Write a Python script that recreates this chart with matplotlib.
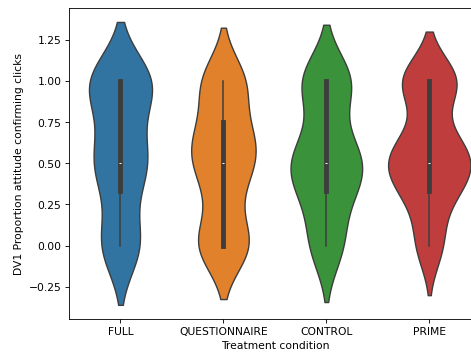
import numpy as np
import pandas as pd
import matplotlib
matplotlib.use("Agg")
import matplotlib.pyplot as plt
import seaborn as sns

# Proportion of attitude-confirming clicks, one value per participant,
# stored as (value, count) pairs for each treatment condition
conditions = ["FULL", "QUESTIONNAIRE", "CONTROL", "PRIME"]

full_values = [0, 0.25, 1/3, 0.4, 0.5, 0.6, 0.7, 0.8, 0.9, 1]
full_counts = [10, 1, 2, 1, 9, 2, 2, 2, 1, 15]

questionnaire_values = [0, 0.25, 1/3, 0.4, 0.5, 0.6, 2/3, 0.75, 0.8, 1]
questionnaire_counts = [16, 3, 3, 1, 9, 6, 4, 4, 1, 13]

control_values = [0, 0.2, 0.25, 1/3, 0.4, 0.5, 0.6, 2/3, 0.75, 1]
control_counts = [6, 1, 1, 3, 3, 7, 3, 1, 1, 10]

prime_values = [0, 0.2, 1/3, 0.4, 0.5, 0.6, 2/3, 0.75, 1]
prime_counts = [6, 2, 6, 3, 10, 6, 2, 1, 14]

groups = {
    "FULL": (full_values, full_counts),
    "QUESTIONNAIRE": (questionnaire_values, questionnaire_counts),
    "CONTROL": (control_values, control_counts),
    "PRIME": (prime_values, prime_counts),
}

rows = []
for name in conditions:
    vals, counts = groups[name]
    for v in np.repeat(vals, counts):
        rows.append({"Treatment condition": name,
                     "DV1 Proportion attitude confirming clicks": v})
df = pd.DataFrame(rows)

dpi = 77.5
fig = plt.figure(figsize=(471.2 / dpi, 354.2 / dpi), dpi=dpi)
ax = fig.add_axes([0.1465, 0.0989, 0.8737, 0.8785])

# widths scaled against the largest density of all four violins
sns.violinplot(data=df, x="Treatment condition",
               y="DV1 Proportion attitude confirming clicks",
               hue="Treatment condition", order=conditions,
               hue_order=conditions, legend=False, ax=ax,
               density_norm="area", common_norm=True,
               linewidth=1.3,
               inner_kws=dict(box_width=4.5, whis_width=1.4,
                              markersize=2.5))

ax.set_xlim(-0.5, 3.5)

fig.savefig("out.png", dpi=dpi)
